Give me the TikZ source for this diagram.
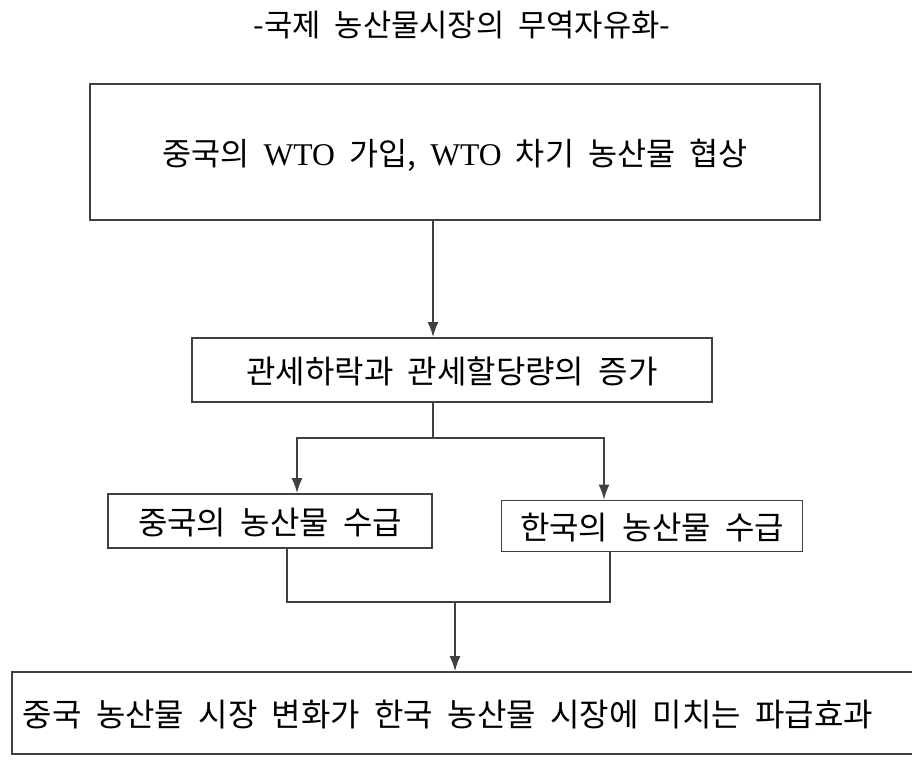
\documentclass[tikz,border=0pt]{standalone}
\usepackage{fontspec}
\setmainfont{Liberation Serif}
\newfontfamily\kr[WordSpace=2]{Noto Sans CJK KR}
\usepackage{tikz}
\usetikzlibrary{calc}
\usetikzlibrary{arrows.meta,positioning}
\tikzstyle{box} = [rectangle, text centered, inner sep=0pt, text depth=-0.3cm, draw=black!75, line width=1pt, font=\kr\fontsize{18.2}{22}\selectfont]
\tikzstyle{bigbox} = [box, minimum width=14.6cm, minimum height=2.72cm, font=\kr\fontsize{18}{22}\selectfont]
\tikzstyle{line}=[draw, line width=1pt, color=black!75, -{Latex[length=0.3cm, width=0.22cm]}]
\tikzstyle{plainline}=[draw, line width=1pt, color=black!75]

\begin{document}
\begin{tikzpicture}[x=0.02cm, y=-0.02cm]
  \useasboundingbox (0,0) rectangle (912,760);
  \node (title) at (462,25) {\kr\fontsize{17.5}{20}\selectfont -국제 농산물시장의 무역자유화-};
  \node (wto) [bigbox] at (455,152) {중국의 {\rmfamily WTO} 가입, {\rmfamily WTO} 차기 농산물 협상};
  \node (tariff) [box, minimum width=10.4cm, minimum height=1.28cm] at (452,370) {관세하락과 관세할당량의 증가};
  \node (china) [box, minimum width=6.48cm, minimum height=1.08cm] at (270,521) {중국의 농산물 수급};
  \node (korea) [box, minimum width=6.02cm, minimum height=1.02cm] at (652,526) {한국의 농산물 수급};
  \node (effect) [box, minimum width=18.04cm, minimum height=1.64cm, text depth=-0.45cm] at (463,713) {\hspace*{-0.6cm}중국 농산물 시장 변화가 한국 농산물 시장에 미치는 파급효과};
  % branch points
  \coordinate (split) at (433,438);
  \coordinate (splitL) at (297,438);
  \coordinate (splitR) at (604,438);
  \coordinate (mergeL) at (287,602);
  \coordinate (mergeR) at (610,602);
  \coordinate (merge) at (455,602);
  \path [line] (wto.south -| split) -- (tariff.north -| split);
  \path [plainline] (tariff.south -| split) -- (split);
  \path [line] (split) -- (splitL) -- (china.north -| splitL);
  \path [line] (split) -- (splitR) -- (korea.north -| splitR);
  \path [plainline] (china.south -| mergeL) -- (mergeL) -- (mergeR) -- (korea.south -| mergeR);
  \path [line] (merge) -- (effect.north -| merge);

\end{tikzpicture}
\end{document}
